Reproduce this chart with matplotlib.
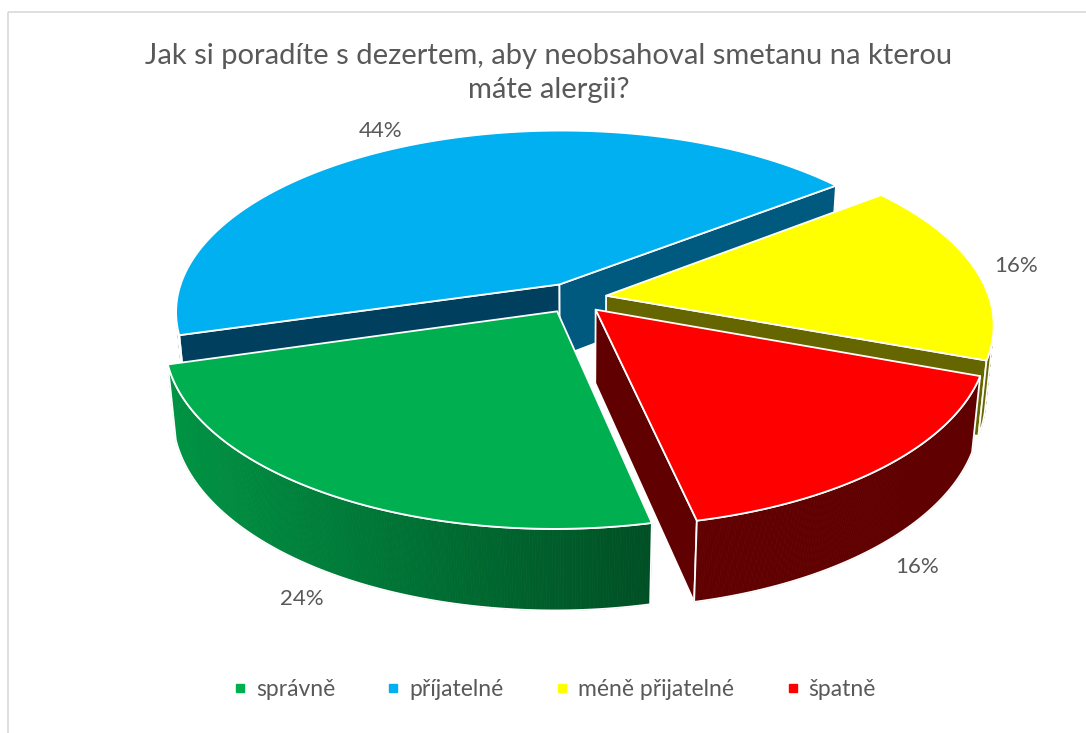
import numpy as np
import matplotlib
matplotlib.use('Agg')
import matplotlib.pyplot as plt
from matplotlib.patches import Polygon, Rectangle
from matplotlib.lines import Line2D

# ---- data ----
categories = ['správně', 'příjatelné', 'méně přijatelné', 'špatně']
values = [24, 44, 16, 16]
pct_labels = ['24%', '44%', '16%', '16%']
title = 'Jak si poradíte s dezertem, aby neobsahoval smetanu na kterou\nmáte alergii?'

# ---- styles ----
top_colors = ['#00B050', '#00B0F0', '#FFFF00', '#FF0000']
start_face = ['#005A2C', '#00405E', '#666600', '#600000']
end_face = ['#005A2C', '#005A80', '#666600', '#600000']
wall_left = ['#009444', '#00405E', '#666600', '#600000']
wall_right = ['#004F24', '#00405E', '#666600', '#600000']
text_color = '#595959'
FONT = ['Lato', 'DejaVu Sans']

W, H = 1086, 733
fig = plt.figure(figsize=(W / 100, H / 100), dpi=100)
ax = fig.add_axes([0, 0, 1, 1])
ax.set_xlim(0, W)
ax.set_ylim(H, 0)
ax.axis('off')

# chart border
ax.add_patch(Rectangle((7.5, 11.5), 1200, 1000, fill=False, ec='#D9D9D9', lw=1.2))

# ---- 3D projection ----
phi = np.radians(30)
Dcam = 5.9
S = 376
h = 0.22
start = 167.6
e = 0.085
cx0, cy0 = 574, 298
sy0 = h * np.cos(phi)
d0 = -h * np.sin(phi)
k0 = Dcam / (Dcam + d0)
cx = cx0
cy = cy0 + S * sy0 * k0
cam = np.array([0, -Dcam * np.cos(phi), Dcam * np.sin(phi)])


def proj(X, Y, Z):
    sy = Y * np.sin(phi) + Z * np.cos(phi)
    d = Y * np.cos(phi) - Z * np.sin(phi)
    k = Dcam / (Dcam + d)
    return cx + S * X * k, cy - S * sy * k


def pt(r, th, z, off):
    t = np.radians(th)
    return (off[0] + r * np.sin(t), off[1] + r * np.cos(t), z)


def visible(n, p):
    return np.dot(n, cam - np.array(p)) > 0


def poly2d(pts3):
    return np.array([proj(*p) for p in pts3])


frac = np.array(values, dtype=float) / sum(values)
bounds = start + 360 * np.concatenate([[0], np.cumsum(frac)])

slices = []
for i in range(len(values)):
    a0, a1 = bounds[i], bounds[i + 1]
    mid = 0.5 * (a0 + a1)
    off = (e * np.sin(np.radians(mid)), e * np.cos(np.radians(mid)))
    slices.append((i, a0, a1, mid, off))

order = sorted(slices, key=lambda s: -s[4][1])
edge_kw = dict(ec='white', lw=1.3, joinstyle='round')

# walls
for (i, a0, a1, mid, off) in order:
    c0 = (off[0], off[1], h)
    c0b = (off[0], off[1], 0)
    # radial faces
    for ang, sign, col in ((a0, -1, start_face[i]), (a1, 1, end_face[i])):
        t = np.radians(ang)
        n = np.array([sign * np.cos(t), -sign * np.sin(t), 0])
        rim = pt(1, ang, h / 2, off)
        if visible(n, rim):
            q = poly2d([c0, pt(1, ang, h, off), pt(1, ang, 0, off), c0b])
            ax.add_patch(Polygon(q, closed=True, fc=col, **edge_kw))
    # outer wall
    ths = np.linspace(a0, a1, 240)
    vis = []
    for j in range(len(ths) - 1):
        tm = 0.5 * (ths[j] + ths[j + 1])
        t = np.radians(tm)
        n = np.array([np.sin(t), np.cos(t), 0])
        vis.append(visible(n, pt(1, tm, h / 2, off)))
    idx = [j for j, v in enumerate(vis) if v]
    if idx:
        lo, hi = idx[0], idx[-1] + 1
        seg = ths[lo:hi + 1]
        topp = poly2d([pt(1, a, h, off) for a in seg])
        botp = poly2d([pt(1, a, 0, off) for a in seg])
        xs_all = np.concatenate([topp[:, 0], botp[:, 0]])
        xmin, xmax = xs_all.min(), xs_all.max()
        cl = np.array(matplotlib.colors.to_rgb(wall_left[i]))
        cr = np.array(matplotlib.colors.to_rgb(wall_right[i]))
        for j in range(len(seg) - 1):
            q = np.array([topp[j], topp[j + 1], botp[j + 1], botp[j]])
            f = (q[:, 0].mean() - xmin) / max(xmax - xmin, 1)
            col = cl * (1 - f) + cr * f
            ax.add_patch(Polygon(q, closed=True, fc=col, ec=col, lw=0.6))
        outline = np.vstack([topp, botp[::-1]])
        ax.add_patch(Polygon(outline, closed=True, fill=False, **edge_kw))

# top faces
for (i, a0, a1, mid, off) in slices:
    arc = [pt(1, a, h, off) for a in np.linspace(a0, a1, 200)]
    q = poly2d([(off[0], off[1], h)] + arc)
    ax.add_patch(Polygon(q, closed=True, fc=top_colors[i], **edge_kw))

# data labels
for (i, a0, a1, mid, off) in slices:
    t = np.radians(mid)
    X, Y = 1.2 * np.sin(t), 1.2 * np.cos(t)
    z = h if Y > 0 else 0
    x, y = proj(X, Y, z)
    if Y > 0.5:
        x += S * off[0]
    ax.text(x, y, pct_labels[i], ha='center', va='center', fontsize=16,
            color=text_color, family=FONT)

# title
ax.text(W / 2 + 6, 73, title, ha='center', va='center', fontsize=21,
        color=text_color, family=FONT, linespacing=1.35)

# legend
handles = [Line2D([], [], marker='s', ls='', color=c, markersize=6) for c in top_colors]
fig.legend(handles, categories, loc='center', bbox_to_anchor=(0.5 + 12 / W, 1 - 690 / H),
           ncol=4, frameon=False, prop={'family': FONT, 'size': 16.5},
           labelcolor=text_color, handlelength=0.5, handletextpad=0.45,
           columnspacing=2.3)

fig.savefig('out.png', dpi=100, facecolor='white')
